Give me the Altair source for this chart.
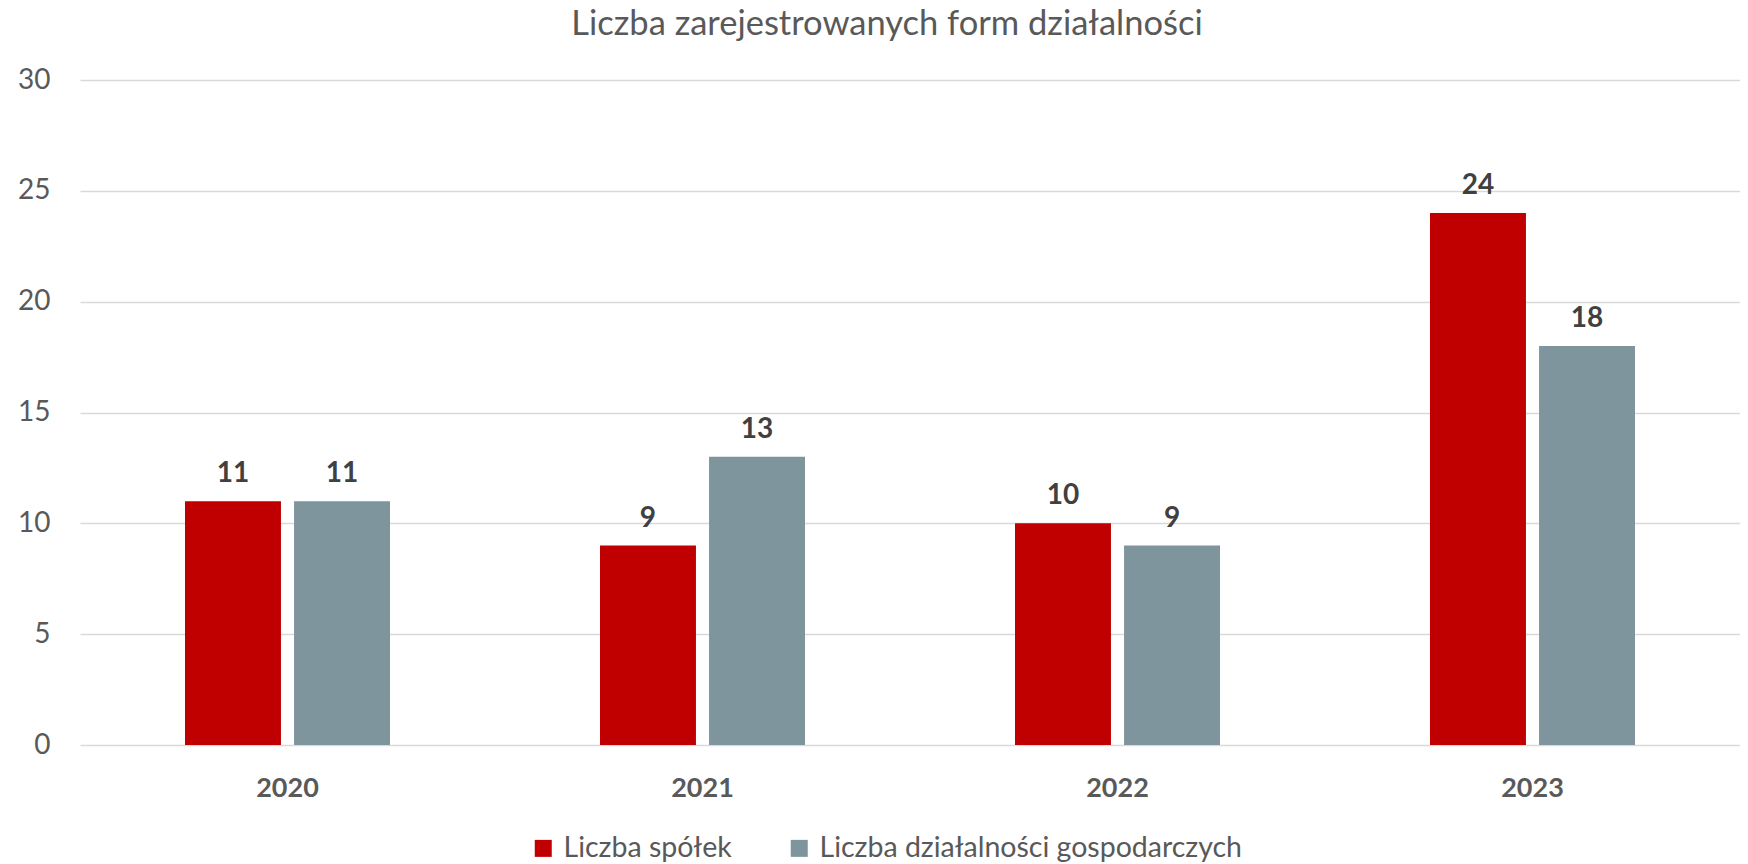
import altair as alt
import pandas as pd

years = ["2020", "2021", "2022", "2023"]
series_names = ["Liczba spółek", "Liczba działalności gospodarczych"]
spolki = [11, 9, 10, 24]
dzialalnosci = [11, 13, 9, 18]
colors = ["#C00000", "#7F959D"]
y_ticks = [0, 5, 10, 15, 20, 25, 30]

rows = []
for yr, a, b in zip(years, spolki, dzialalnosci):
    rows.append({"rok": yr, "seria": series_names[0], "wartosc": a})
    rows.append({"rok": yr, "seria": series_names[1], "wartosc": b})
df = pd.DataFrame(rows)

FONT = "Lato"

x = alt.X(
    "rok:N", sort=years,
    scale=alt.Scale(paddingInner=0.506, paddingOuter=0.253),
    axis=alt.Axis(title=None, labelAngle=0, ticks=False, domain=False, grid=False,
                  labelFont=FONT, labelFontWeight="bold", labelFontSize=27,
                  labelColor="#595959", labelPadding=51, labelBaseline="alphabetic"),
)
xo = alt.XOffset("seria:N", sort=series_names,
                 scale=alt.Scale(paddingInner=0.12, paddingOuter=0))
y = alt.Y(
    "wartosc:Q",
    scale=alt.Scale(domain=[0, 30], nice=False),
    axis=alt.Axis(title=None, values=y_ticks, ticks=False, domain=False, grid=True,
                  gridColor="#D9D9D9", gridWidth=1.3,
                  labelFont=FONT, labelFontSize=28, labelColor="#595959",
                  labelPadding=30),
)
color = alt.Color(
    "seria:N", sort=series_names,
    scale=alt.Scale(domain=series_names, range=colors),
    legend=alt.Legend(orient="none", legendX=449, legendY=754, direction="horizontal",
                      title=None, symbolType="square", symbolSize=289,
                      symbolStrokeWidth=0, labelFont=FONT, labelFontSize=28.5,
                      labelColor="#595959", labelOffset=6, columnPadding=53,
                      labelLimit=1000),
)

bars = alt.Chart(df).mark_bar().encode(x=x, xOffset=xo, y=y, color=color)
labels = alt.Chart(df).mark_text(
    dy=-19, baseline="alphabetic", font=FONT, fontWeight="bold",
    fontSize=28, color="#404040"
).encode(x=x, xOffset=xo, y=y, text="wartosc:Q")

chart = (bars + labels).properties(
    width=1660, height=665,
    title=alt.TitleParams("Liczba zarejestrowanych form działalności", font=FONT,
                          fontSize=34.5, fontWeight="normal", color="#595959",
                          anchor="middle", offset=24, dx=-23),
    autosize=alt.AutoSizeParams(type="none"),
    padding={"left": 72, "top": 72, "right": 0, "bottom": 117},
).configure_view(stroke=None)

chart.save("out.html", embed_options={"renderer": "svg", "actions": False})
